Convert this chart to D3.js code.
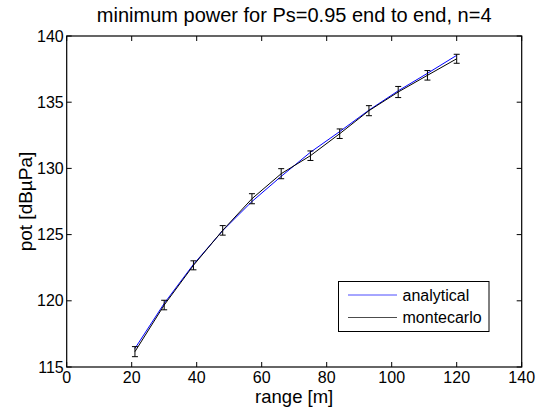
<!DOCTYPE html>
<html>
<head>
<meta charset="utf-8">
<script src="https://cdn.jsdelivr.net/npm/d3@7"></script>
<style>
  html, body { margin: 0; padding: 0; background: #fff; }
  svg { display: block; font-family: "Liberation Sans", Arial, Helvetica, sans-serif; }
</style>
</head>
<body>
<svg id="chart" width="543" height="407"></svg>
<script>
const ranges = [21, 30, 39, 48, 57, 66, 75, 84, 93, 102, 111, 120];
const analytical = [116.40, 119.80, 122.75, 125.30, 127.50, 129.40, 131.22, 132.78, 134.40, 135.86, 137.18, 138.54];
const montecarlo = [116.16, 119.68, 122.68, 125.32, 127.71, 129.60, 130.96, 132.62, 134.36, 135.77, 137.03, 138.28];
const mcError = [0.38, 0.36, 0.34, 0.36, 0.38, 0.38, 0.36, 0.36, 0.38, 0.42, 0.36, 0.34];
const xTicks = [0, 20, 40, 60, 80, 100, 120, 140];
const yTicks = [115, 120, 125, 130, 135, 140];
const seriesNames = ["analytical", "montecarlo"];
const titleText = "minimum power for Ps=0.95 end to end, n=4";
const xLabel = "range [m]";
const yLabel = "pot [dBµPa]";

const svg = d3.select("#chart");
const L = 66.7, R = 521.7, T = 36, B = 367;
const x = d3.scaleLinear().domain([0, 140]).range([L, R]);
const y = d3.scaleLinear().domain([115, 140]).range([B, T]);

const tickLen = 5;
const g = svg.append("g");

// ticks (inward, mirrored)
xTicks.forEach(v => {
  g.append("line").attr("x1", x(v)).attr("x2", x(v)).attr("y1", B).attr("y2", B - tickLen).attr("stroke", "#000");
  g.append("line").attr("x1", x(v)).attr("x2", x(v)).attr("y1", T).attr("y2", T + tickLen).attr("stroke", "#000");
  g.append("text").attr("x", x(v)).attr("y", 383).attr("text-anchor", "middle")
    .attr("font-size", 16).attr("fill", "#000").text(v);
});
yTicks.forEach(v => {
  g.append("line").attr("x1", L).attr("x2", L + tickLen).attr("y1", y(v)).attr("y2", y(v)).attr("stroke", "#000");
  g.append("line").attr("x1", R).attr("x2", R - tickLen).attr("y1", y(v)).attr("y2", y(v)).attr("stroke", "#000");
  g.append("text").attr("x", L - 3).attr("y", y(v)).attr("dy", "0.35em").attr("text-anchor", "end")
    .attr("font-size", 16).attr("fill", "#000").text(v);
});

// box
g.append("rect").attr("x", L).attr("y", T).attr("width", R - L).attr("height", B - T)
  .attr("fill", "none").attr("stroke", "#000").attr("stroke-width", 1.2);

const line = d3.line().x(d => x(d[0])).y(d => y(d[1]));

// analytical
g.append("path").datum(ranges.map((r, i) => [r, analytical[i]]))
  .attr("d", line).attr("fill", "none").attr("stroke", "#0000ff").attr("stroke-width", 1);

// montecarlo
g.append("path").datum(ranges.map((r, i) => [r, montecarlo[i]]))
  .attr("d", line).attr("fill", "none").attr("stroke", "#000").attr("stroke-width", 1);

// error bars
const cap = 3;
ranges.forEach((r, i) => {
  const lo = y(montecarlo[i] - mcError[i]), hi = y(montecarlo[i] + mcError[i]), cx = x(r);
  g.append("line").attr("x1", cx).attr("x2", cx).attr("y1", lo).attr("y2", hi).attr("stroke", "#000");
  g.append("line").attr("x1", cx - cap).attr("x2", cx + cap).attr("y1", lo).attr("y2", lo).attr("stroke", "#000");
  g.append("line").attr("x1", cx - cap).attr("x2", cx + cap).attr("y1", hi).attr("y2", hi).attr("stroke", "#000");
});

// legend
const lg = g.append("g");
lg.append("rect").attr("x", 338.5).attr("y", 281.5).attr("width", 150.5).attr("height", 50)
  .attr("fill", "#fff").attr("stroke", "#000").attr("stroke-width", 1);
const legColors = ["#0000ff", "#000"];
seriesNames.forEach((n, i) => {
  const yy = 295 + i * 22.5;
  lg.append("line").attr("x1", 348).attr("x2", 397).attr("y1", yy).attr("y2", yy)
    .attr("stroke", legColors[i]).attr("stroke-width", 1).attr("stroke-opacity", 0.7);
  lg.append("text").attr("x", 402.5).attr("y", yy).attr("dy", "0.35em")
    .attr("font-size", 16).attr("fill", "#000").text(n);
});

// title and labels
svg.append("text").attr("x", (L + R) / 2).attr("y", 22).attr("text-anchor", "middle")
  .attr("font-size", 20).attr("fill", "#000").text(titleText);
svg.append("text").attr("x", (L + R) / 2).attr("y", 403).attr("text-anchor", "middle")
  .attr("font-size", 18.5).attr("fill", "#000").text(xLabel);
svg.append("text").attr("transform", `translate(32,${(T + B) / 2}) rotate(-90)`).attr("text-anchor", "middle")
  .attr("font-size", 19).attr("fill", "#000").text(yLabel);
</script>
</body>
</html>
